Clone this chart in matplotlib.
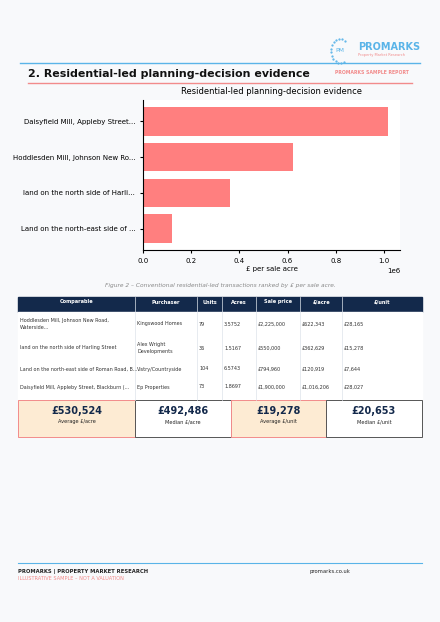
import matplotlib
matplotlib.use("Agg")
import matplotlib.pyplot as plt
from matplotlib.patches import Rectangle
import math

names = ["Daisyfield Mill, Appleby Street...", "Hoddlesden Mill, Johnson New Ro...",
         "land on the north side of Harli...", "Land on the north-east side of ..."]
per_acre = [1016206, 622343, 362629, 120919]

headers = ["Comparable", "Purchaser", "Units", "Acres", "Sale price", "£/acre", "£/unit"]
rows = [
    ["Hoddlesden Mill, Johnson New Road,\nWaterside...", "Kingswood Homes", "79", "3.5752", "£2,225,000", "£622,343", "£28,165"],
    ["land on the north side of Harling Street", "Alex Wright\nDevelopments", "36", "1.5167", "£550,000", "£362,629", "£15,278"],
    ["Land on the north-east side of Roman Road, B...", "Vistry/Countryside", "104", "6.5743", "£794,960", "£120,919", "£7,644"],
    ["Daisyfield Mill, Appleby Street, Blackburn (...", "Ep Properties", "73", "1.8697", "£1,900,000", "£1,016,206", "£28,027"],
]
kpi_values = ["£530,524", "£492,486", "£19,278", "£20,653"]
kpi_labels = ["Average £/acre", "Median £/acre", "Average £/unit", "Median £/unit"]

W, H = 440, 622
fig = plt.figure(figsize=(4.4, 6.22), dpi=100, facecolor="#f8f9fb")
bg = fig.add_axes([0, 0, 1, 1])
bg.set_xlim(0, W); bg.set_ylim(H, 0); bg.axis("off")

navy = "#13294b"; red = "#f28b8b"; blue = "#5ab4e8"
# header
bg.plot([20, 420], [63, 63], color=blue, lw=1)
bg.plot([28, 412], [83, 83], color=red, lw=1)
bg.text(28, 74, "2. Residential-led planning-decision evidence", fontsize=7.9, fontweight="bold", color="#111", va="center")
bg.text(358, 47, "PROMARKS", fontsize=7, fontweight="bold", color=blue, va="center")
bg.text(358, 55, "Property Market Research", fontsize=2.6, color=red, va="center")
bg.text(335, 72, "PROMARKS SAMPLE REPORT", fontsize=3.3, color=red, fontweight="bold", va="center")
bg.text(335, 50, "PM", fontsize=4.5, color=blue, va="center")
for i in range(14):
    a = math.radians(60 + i * 18)
    bg.plot(340 + 9*math.cos(a), 51 - 12*math.sin(a), ".", color=blue, ms=1.2)

# chart
ax = fig.add_axes([143/W, 1-250/H, (400-143)/W, 150/H])
ax.barh(range(len(names)), per_acre, color="#ff7f7f", height=0.8)
ax.set_yticks(range(len(names))); ax.set_yticklabels(names, fontsize=5)
ax.invert_yaxis()
ax.set_xlim(0, 1.067e6)
ax.set_xticks([0, 2e5, 4e5, 6e5, 8e5, 1e6])
ax.tick_params(labelsize=5, length=2)
ax.xaxis.get_offset_text().set_fontsize(5)
ax.set_xlabel("£ per sale acre", fontsize=5, labelpad=2)
ax.set_title("Residential-led planning-decision evidence", fontsize=6, pad=4)
ax.set_facecolor("white")
for s in ["top", "right"]:
    ax.spines[s].set_visible(False)

bg.text(220, 285, "Figure 2 – Conventional residential-led transactions ranked by £ per sale acre.",
        fontsize=4.2, style="italic", color="#888", ha="center", va="center")

# table
cols = [18, 135, 197, 222, 256, 300, 342, 422]
bg.add_patch(Rectangle((18, 297), 404, 15, color=navy))
bg.add_patch(Rectangle((18, 312), 404, 88, color="white"))
for i, h in enumerate(headers):
    bg.text((cols[i]+cols[i+1])/2, 302, h, fontsize=3.6, color="white", fontweight="bold", ha="center", va="center")
for x in cols[1:-1]:
    bg.plot([x, x], [297, 400], color="#dde3ea", lw=0.5)
rys = [324, 348, 369, 387]
for r, y in zip(rows, rys):
    for i, c in enumerate(r):
        bg.text(cols[i]+2, y, c, fontsize=3.5, color="#333", va="center", linespacing=1.5)
# kpis
kx = [(18, 135, "#fdebd3", red), (135, 231, "white", "#555"), (231, 326, "#fdebd3", red), (326, 422, "white", "#555")]
for (x0, x1, fc, ec), v, l in zip(kx, kpi_values, kpi_labels):
    bg.add_patch(Rectangle((x0, 400), x1-x0, 37, facecolor=fc, edgecolor=ec, lw=0.7))
    bg.text((x0+x1)/2, 411, v, fontsize=7, fontweight="bold", color=navy, ha="center", va="center")
    bg.text((x0+x1)/2, 422, l, fontsize=3.6, color="#222", ha="center", va="center")

# footer
bg.plot([18, 422], [563, 563], color=blue, lw=0.8)
bg.text(18, 571, "PROMARKS | PROPERTY MARKET RESEARCH", fontsize=3.8, fontweight="bold", color="#222", va="center")
bg.text(18, 578, "ILLUSTRATIVE SAMPLE – NOT A VALUATION", fontsize=3.6, color=red, va="center")
bg.text(310, 571, "promarks.co.uk", fontsize=3.8, color="#222", va="center")

fig.savefig("out.png", dpi=100, facecolor=fig.get_facecolor())
